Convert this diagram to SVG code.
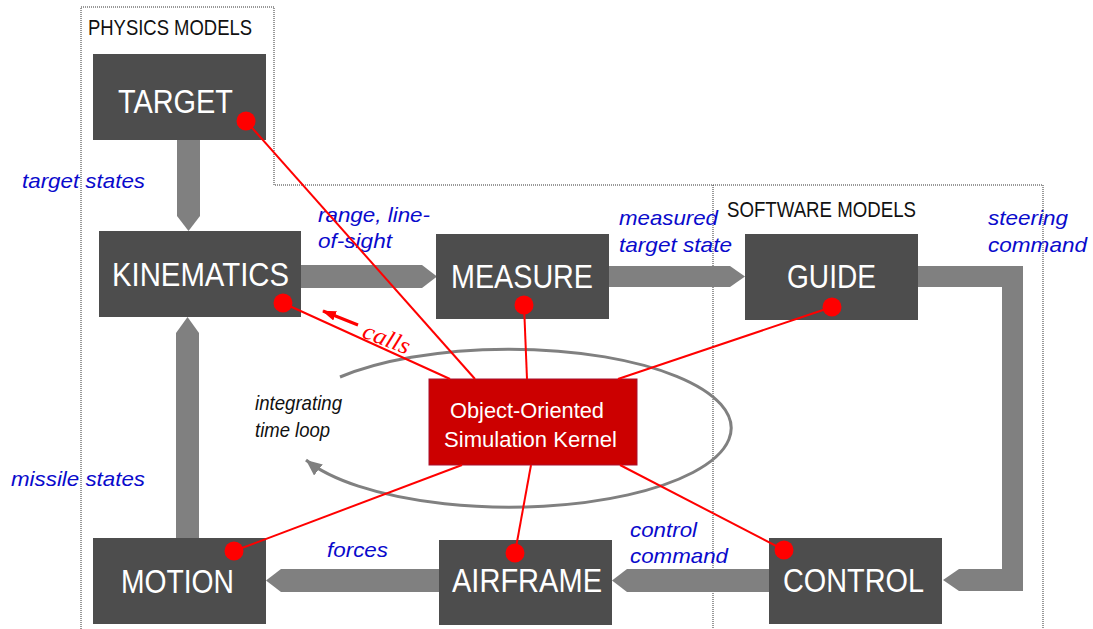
<svg xmlns="http://www.w3.org/2000/svg" width="1093" height="629" viewBox="0 0 1093 629">
  <style>
    .frame { fill: none; stroke: #333333; stroke-width: 1; stroke-dasharray: 1 1; }
    .flow { fill: #808080; }
    .box { fill: #4d4d4d; }
    .kernel { fill: #cc0000; stroke: #a8102e; stroke-width: 1; }
    .name { font-family: "Liberation Sans", Arial, sans-serif; font-size: 34px; fill: #ffffff; }
    .ktext { font-family: "Liberation Sans", Arial, sans-serif; font-size: 22px; fill: #ffffff; }
    .region { font-family: "Liberation Sans", Arial, sans-serif; font-size: 22px; fill: #111111; }
    .label { font-family: "Liberation Sans", Arial, sans-serif; font-size: 21px; font-style: italic; fill: #0a0acc; }
    .note { font-family: "Liberation Sans", Arial, sans-serif; font-size: 21px; font-style: italic; fill: #111111; }
    .call { stroke: #ff0000; stroke-width: 2; fill: none; }
    .dot { fill: #ff0000; }
    .loop { fill: none; stroke: #808080; stroke-width: 3; }
  </style>
  <defs>
    <marker id="loopHead" markerUnits="userSpaceOnUse" markerWidth="18" markerHeight="16" refX="16" refY="7" orient="auto">
      <path d="M0,0 L16,7 L0,14 z" fill="#808080"/>
    </marker>
    <marker id="callHead" markerUnits="userSpaceOnUse" markerWidth="16" markerHeight="12" refX="13" refY="5" orient="auto">
      <path d="M0,0 L14,5 L0,10 z" fill="#ff0000"/>
    </marker>
  </defs>

  <rect width="1093" height="629" fill="#ffffff"/>

  <!-- dotted region outlines -->
  <g id="regions">
    <polyline class="frame" points="81,629 81,7 274,7 274,185 1043,185 1043,629"/>
    <line class="frame" x1="713" y1="185" x2="713" y2="629"/>
    <text class="region" x="88" y="35" textLength="164" lengthAdjust="spacingAndGlyphs">PHYSICS MODELS</text>
    <text class="region" x="727" y="217" textLength="189" lengthAdjust="spacingAndGlyphs">SOFTWARE MODELS</text>
  </g>

  <!-- data flow arrows and the time loop -->
  <g id="flows">
    <polygon class="flow" points="177,140 200,140 200,216 188.5,231 177,216"/>
    <polygon class="flow" points="301,265 422,265 437,276.5 422,288 301,288"/>
    <polygon class="flow" points="609,266 730,266 745,276.5 730,287 609,287"/>
    <polygon class="flow" points="918,266 1023,266 1023,591 959,591 943,580 959,569 1002,569 1002,287 918,287"/>
    <polygon class="flow" points="769,569 627,569 612,580.5 627,592 769,592"/>
    <polygon class="flow" points="439,569 281,569 266,580.5 281,592 439,592"/>
    <polygon class="flow" points="176,538 176,333 187.5,317 199,333 199,538"/>
    <path class="loop" d="M340,377 A222,79 0 1,1 306,460" marker-end="url(#loopHead)"/>
  </g>

  <!-- flow labels -->
  <g id="labels">
    <text class="label" x="22" y="188" textLength="123" lengthAdjust="spacingAndGlyphs">target states</text>
    <text class="label" x="318" y="222" textLength="112" lengthAdjust="spacingAndGlyphs">range, line-</text>
    <text class="label" x="318" y="248" textLength="74" lengthAdjust="spacingAndGlyphs">of-sight</text>
    <text class="label" x="619" y="225" textLength="99" lengthAdjust="spacingAndGlyphs">measured</text>
    <text class="label" x="619" y="252" textLength="113" lengthAdjust="spacingAndGlyphs">target state</text>
    <text class="label" x="988" y="225" textLength="80" lengthAdjust="spacingAndGlyphs">steering</text>
    <text class="label" x="988" y="252" textLength="99" lengthAdjust="spacingAndGlyphs">command</text>
    <text class="label" x="11" y="486" textLength="134" lengthAdjust="spacingAndGlyphs">missile states</text>
    <text class="label" x="327" y="557" textLength="61" lengthAdjust="spacingAndGlyphs">forces</text>
    <text class="label" x="630" y="537" textLength="67" lengthAdjust="spacingAndGlyphs">control</text>
    <text class="label" x="630" y="563" textLength="98" lengthAdjust="spacingAndGlyphs">command</text>
    <text class="note" x="255" y="410" textLength="87" lengthAdjust="spacingAndGlyphs">integrating</text>
    <text class="note" x="255" y="437" textLength="75" lengthAdjust="spacingAndGlyphs">time loop</text>
  </g>

  <!-- model blocks -->
  <g id="target">
    <rect class="box" x="93" y="54" width="173" height="86"/>
    <text class="name" x="118" y="113" textLength="115" lengthAdjust="spacingAndGlyphs">TARGET</text>
  </g>
  <g id="kinematics">
    <rect class="box" x="99" y="231" width="202" height="86"/>
    <text class="name" x="112" y="286" textLength="177" lengthAdjust="spacingAndGlyphs">KINEMATICS</text>
  </g>
  <g id="measure">
    <rect class="box" x="436" y="234" width="173" height="85"/>
    <text class="name" x="451" y="288" textLength="142" lengthAdjust="spacingAndGlyphs">MEASURE</text>
  </g>
  <g id="guide">
    <rect class="box" x="745" y="234" width="173" height="86"/>
    <text class="name" x="787" y="288" textLength="89" lengthAdjust="spacingAndGlyphs">GUIDE</text>
  </g>
  <g id="motion">
    <rect class="box" x="93" y="538" width="173" height="86"/>
    <text class="name" x="121" y="593" textLength="113" lengthAdjust="spacingAndGlyphs">MOTION</text>
  </g>
  <g id="airframe">
    <rect class="box" x="439" y="540" width="173" height="85"/>
    <text class="name" x="452" y="592" textLength="150" lengthAdjust="spacingAndGlyphs">AIRFRAME</text>
  </g>
  <g id="control">
    <rect class="box" x="769" y="538" width="173" height="86"/>
    <text class="name" x="783" y="592" textLength="141" lengthAdjust="spacingAndGlyphs">CONTROL</text>
  </g>
  <g id="kernel">
    <rect class="kernel" x="429" y="379" width="208" height="86"/>
    <text class="ktext" x="450" y="418" textLength="154" lengthAdjust="spacingAndGlyphs">Object-Oriented</text>
    <text class="ktext" x="444" y="447" textLength="173" lengthAdjust="spacingAndGlyphs">Simulation Kernel</text>
  </g>

  <!-- kernel call links -->
  <g id="calls">
    <line class="call" x1="246" y1="121" x2="475" y2="379"/>
    <line class="call" x1="283" y1="303" x2="450" y2="379"/>
    <line class="call" x1="524" y1="305" x2="527" y2="379"/>
    <line class="call" x1="832" y1="307" x2="618" y2="379"/>
    <line class="call" x1="234" y1="551" x2="462" y2="465"/>
    <line class="call" x1="515" y1="553" x2="531" y2="465"/>
    <line class="call" x1="784" y1="550" x2="620" y2="465"/>
    <circle class="dot" cx="246" cy="121" r="9.5"/>
    <circle class="dot" cx="283" cy="303" r="9.5"/>
    <circle class="dot" cx="524" cy="305" r="9.5"/>
    <circle class="dot" cx="832" cy="307" r="9.5"/>
    <circle class="dot" cx="234" cy="551" r="9.5"/>
    <circle class="dot" cx="515" cy="553" r="9.5"/>
    <circle class="dot" cx="784" cy="550" r="9.5"/>
    <line x1="358" y1="325" x2="323" y2="311" stroke="#ff0000" stroke-width="3" marker-end="url(#callHead)"/>
    <text transform="translate(361,337) rotate(21)" font-family="'Liberation Serif', 'Times New Roman', serif" font-size="24" font-style="italic" fill="#ff0000" textLength="49" lengthAdjust="spacingAndGlyphs">calls</text>
  </g>
</svg>
